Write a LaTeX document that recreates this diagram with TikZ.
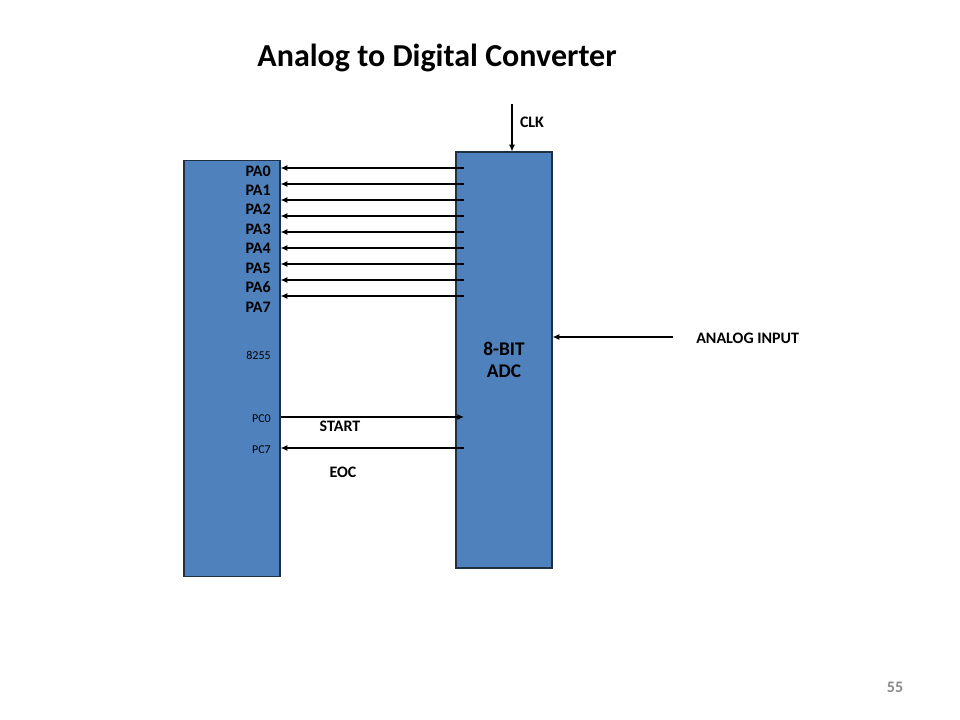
\documentclass[tikz,border=0pt]{standalone}
\usepackage{fontspec}
\setmainfont{Carlito}
\usetikzlibrary{arrows.meta}
\definecolor{boxblue}{HTML}{4F81BD}
\definecolor{boxedge}{HTML}{1F2F44}
\definecolor{pggray}{HTML}{898989}
\begin{document}
\begin{tikzpicture}[x=0.75pt,y=-0.75pt,
  chip/.style={draw=boxedge,fill=boxblue,line width=0.9pt,minimum width=72pt,minimum height=312pt,inner sep=0pt},
  arr/.style={line width=0.9pt,-{Latex[length=5pt,width=4.5pt]}},
  pin/.style={font=\bfseries\fontsize{12}{14}\selectfont,anchor=east,inner sep=0pt},
  smallpin/.style={font=\fontsize{9}{11}\selectfont,anchor=east,inner sep=0pt},
  lbl/.style={font=\bfseries\fontsize{12}{14}\selectfont,inner sep=0pt}]
\useasboundingbox[fill=white] (0,0) rectangle (960,720);
\node[font=\bfseries\fontsize{24}{29}\selectfont] (title) at (437,58) {Analog to Digital Converter};
\node[chip] (ppi) at (232,368.5) {};
\node[chip] (adc) at (504,360) {};
\node[font=\bfseries\fontsize{14.5}{17}\selectfont,align=center] (adclbl) at (504,360) {8-BIT\\ADC};
\foreach \n [count=\i from 0] in {171,190,209.5,229,248.5,268,287.5,307}
  \node[pin] (pa\i) at (271,\n) {PA\i};
\node[smallpin] (n8255) at (271,355) {8255};
\node[smallpin] (pc0) at (271,419) {PC0};
\node[smallpin] (pc7) at (271,450) {PC7};
\foreach \y [count=\i] in {168,184,200,216,232,248,264,280,296} {
  \coordinate (d\i) at (464,\y);
  \draw[arr] (d\i) -- (ppi.east |- d\i);
}
\coordinate (st) at (ppi.east |- 0,417);
\coordinate (ste) at (464,417);
\draw[arr] (st) -- (ste);
\coordinate (eo) at (464,448);
\draw[arr] (eo) -- (ppi.east |- eo);
\node[lbl] (start) at (340,426) {START};
\node[lbl] (eoc) at (343,472) {EOC};
\coordinate (clk) at (512,104);
\draw[arr] (clk) -- (clk |- adc.north);
\node[lbl] (clklbl) at (532,122) {CLK};
\coordinate (ain) at (673,337);
\draw[arr] (ain) -- (adc.east |- ain);
\node[lbl,anchor=west] (ainlbl) at (696,338) {ANALOG INPUT};
\node[font=\bfseries\fontsize{12}{14}\selectfont,text=pggray] (pg) at (895,687) {55};
\end{tikzpicture}
\end{document}
